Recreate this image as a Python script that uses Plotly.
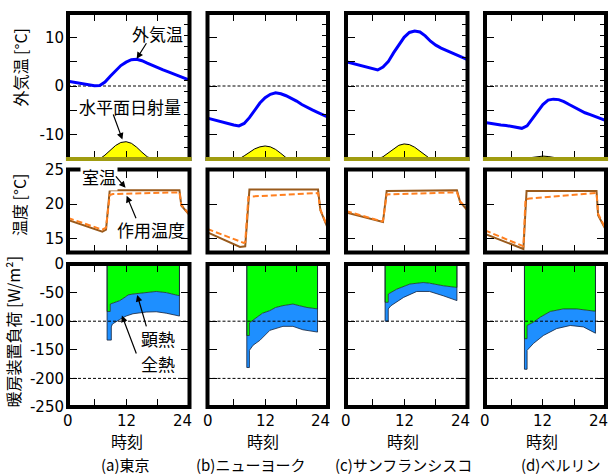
import plotly.graph_objects as go

W, H = 610, 475

# ---------------- data ----------------
hours = list(range(1, 25))

# outdoor air temperature [°C] (hourly, 1..24 h)
temp_out_tokyo = [1.0, 0.8, 0.6, 0.4, 0.2, 0.05, 0.1, 0.8, 2.0, 3.1, 4.2, 4.9,
                  5.4, 5.5, 5.2, 4.7, 4.2, 3.8, 3.3, 2.9, 2.5, 2.0, 1.6, 1.2]
temp_out_newyork = [-6.6, -6.9, -7.2, -7.5, -7.8, -8.0, -8.2, -7.7, -6.5, -5.0, -3.5, -2.4,
                    -1.7, -1.4, -1.6, -2.0, -2.5, -3.1, -3.8, -4.4, -4.9, -5.4, -5.9, -6.4]
temp_out_sanfran = [5.0, 4.7, 4.4, 4.1, 3.8, 3.5, 3.3, 3.9, 5.0, 6.8, 8.5, 10.0,
                    11.0, 11.3, 11.1, 10.3, 9.2, 8.4, 7.8, 7.3, 6.8, 6.3, 5.8, 5.4]
temp_out_berlin = [-7.5, -7.7, -7.8, -8.0, -8.1, -8.3, -8.5, -8.7, -8.2, -6.8, -5.2, -3.8,
                   -2.9, -2.7, -2.8, -3.2, -3.8, -4.4, -5.0, -5.5, -5.9, -6.3, -6.7, -7.1]

# horizontal solar radiation (relative units on the unlabeled right axis)
solar_tokyo = [0, 0, 0, 0, 0, 0, 0, 0.35, 0.8, 1.2, 1.47, 1.54,
               1.4, 1.05, 0.6, 0.2, 0, 0, 0, 0, 0, 0, 0, 0]
solar_newyork = [0, 0, 0, 0, 0, 0, 0, 0.28, 0.6, 0.9, 1.08, 1.16,
                 1.08, 0.85, 0.5, 0.12, 0, 0, 0, 0, 0, 0, 0, 0]
solar_sanfran = [0, 0, 0, 0, 0, 0, 0, 0.2, 0.55, 0.95, 1.22, 1.34,
                 1.28, 1.05, 0.7, 0.3, 0, 0, 0, 0, 0, 0, 0, 0]
solar_berlin = [0, 0, 0, 0, 0, 0, 0, 0, 0.05, 0.14, 0.22, 0.26,
                0.22, 0.14, 0.05, 0, 0, 0, 0, 0, 0, 0, 0, 0]

# room air temperature (solid) and operative temperature (dashed) [°C]
room_t_tokyo = [1, 7.5, 8.2, 8.9, 22.1, 22.45, 24]
room_tokyo = [17.7, 16.0, 16.3, 22.0, 22.0, 19.8, 18.4]
op_t_tokyo = [1, 7.5, 8.2, 8.9, 9.5, 22.1, 22.45, 24]
op_tokyo = [18.0, 16.3, 16.6, 21.3, 21.45, 21.7, 19.9, 18.5]

room_t_newyork = [1, 7.2, 8.2, 9.0, 22.1, 22.55, 24]
room_newyork = [15.9, 13.8, 13.9, 22.1, 22.1, 19.1, 16.4]
op_t_newyork = [1, 7.9, 8.2, 8.8, 9.5, 22.1, 22.55, 24]
op_newyork = [16.4, 14.4, 14.5, 21.0, 21.1, 21.6, 19.2, 16.5]

room_t_sanfran = [1, 7.8, 8.0, 8.7, 22.0, 22.6, 24]
room_sanfran = [18.8, 17.4, 17.4, 21.9, 22.0, 20.3, 19.1]
op_t_sanfran = [1, 7.8, 8.0, 8.7, 22.0, 22.6, 24]
op_sanfran = [19.0, 17.5, 17.6, 21.4, 21.7, 20.4, 19.2]

room_t_berlin = [1, 8.3, 8.9, 22.2, 22.5, 24]
room_berlin = [15.7, 13.5, 21.9, 21.9, 18.4, 16.2]
op_t_berlin = [1, 8.3, 8.7, 9.5, 22.2, 22.5, 24]
op_berlin = [16.2, 13.9, 20.7, 20.8, 21.6, 18.6, 16.3]

# heating load [W/m²]: sensible and total
sens_t_tokyo = [8.4, 9.0, 9.0, 9.9, 10.8, 11.8, 12.4, 13.3, 15.8, 17.7, 19.6, 22.1]
sens_tokyo = [-83, -83, -70, -67, -64, -58, -54, -52.5, -50, -48, -50, -55.5]
total_t_tokyo = [8.4, 9.2, 9.2, 9.4, 9.9, 10.8, 12.0, 13.3, 15.8, 17.7, 19.6, 22.1]
total_tokyo = [-133, -133, -110, -105, -101.7, -97, -91, -87, -84, -83.5, -86, -91]

sens_t_newyork = [8.5, 9.0, 9.0, 9.7, 10.4, 11.5, 12.9, 14.0, 15.4, 17.3, 18.6, 20.0, 22.0]
sens_newyork = [-125, -125, -103, -98, -93, -86, -81.5, -76, -72.8, -70, -73, -76, -78.5]
total_t_newyork = [8.5, 9.0, 9.0, 9.7, 11.0, 12.9, 15.4, 17.3, 19.2, 22.0]
total_newyork = [-181, -181, -151, -142, -133.5, -116, -109, -109, -115, -119]

sens_t_sanfran = [8.4, 9.0, 9.0, 10.6, 13.1, 15.6, 16.8, 19.4, 22.0]
sens_sanfran = [-67, -67, -52.5, -44, -35, -32.4, -33.5, -38, -41]
total_t_sanfran = [8.4, 9.0, 9.0, 9.5, 11.9, 14.4, 16.8, 19.4, 22.0]
total_sanfran = [-100, -100, -78.5, -73, -58.4, -48, -48, -55.5, -64]

sens_t_berlin = [8.5, 9.0, 9.0, 10.2, 11.5, 13.4, 15.9, 18.4, 22.0]
sens_berlin = [-130.5, -130.5, -107.5, -101.7, -93, -83, -78.5, -78.5, -82.6]
total_t_berlin = [8.5, 9.0, 9.0, 10.2, 12.1, 14.6, 17.2, 19.7, 22.0]
total_berlin = [-184, -184, -151, -139, -125, -113, -107.5, -110, -121]

city_labels = ["(a)東京", "(b)ニューヨーク", "(c)サンフランシスコ", "(d)ベルリン"]
x_ticklabels = ["0", "12", "24"]
row1_ticks = [-10, -5, 0, 5, 10]
row2_ticks = [15, 20, 25]
row3_ticks = [-250, -200, -150, -100, -50, 0]

cities = [
    dict(tout=temp_out_tokyo, sol=solar_tokyo, rt=room_t_tokyo, r=room_tokyo, ot=op_t_tokyo, o=op_tokyo,
         st=sens_t_tokyo, s=sens_tokyo, tt=total_t_tokyo, t=total_tokyo),
    dict(tout=temp_out_newyork, sol=solar_newyork, rt=room_t_newyork, r=room_newyork, ot=op_t_newyork, o=op_newyork,
         st=sens_t_newyork, s=sens_newyork, tt=total_t_newyork, t=total_newyork),
    dict(tout=temp_out_sanfran, sol=solar_sanfran, rt=room_t_sanfran, r=room_sanfran, ot=op_t_sanfran, o=op_sanfran,
         st=sens_t_sanfran, s=sens_sanfran, tt=total_t_sanfran, t=total_sanfran),
    dict(tout=temp_out_berlin, sol=solar_berlin, rt=room_t_berlin, r=room_berlin, ot=op_t_berlin, o=op_berlin,
         st=sens_t_berlin, s=sens_berlin, tt=total_t_berlin, t=total_berlin),
]

# ---------------- layout helpers ----------------
cols_x = [(68, 189.5), (207.5, 328), (346, 467.5), (485, 606)]
rows_y = [(13, 159), (169.5, 252.5), (264, 407)]


def px(x):
    return x / W


def py(y):
    return 1 - y / H


def xn(k):
    return "x" if k == 1 else f"x{k}"


def yn(k):
    return "y" if k == 1 else f"y{k}"


NUM_FONT = dict(family="DejaVu Sans", size=15, color="black")
JP = "Noto Sans CJK JP"

fig = go.Figure()
layout = dict(width=W, height=H, margin=dict(l=0, r=0, t=0, b=0, pad=0), autosize=False,
              paper_bgcolor="white", plot_bgcolor="rgba(0,0,0,0)", showlegend=False,
              font=dict(family="DejaVu Sans, Noto Sans CJK JP", size=15, color="black"))
shapes = []
annotations = []

yranges = [[-15, 15], [13, 25], [-250, 0]]
yticks = [row1_ticks, row2_ticks, row3_ticks]

for r in range(3):
    for c in range(4):
        k = r * 4 + c + 1
        layout["xaxis" if k == 1 else f"xaxis{k}"] = dict(
            domain=[px(cols_x[c][0]), px(cols_x[c][1])], range=[1, 24], anchor=yn(k),
            tickvals=[6, 12, 18], ticks="inside", ticklen=8, tickwidth=1, tickcolor="black",
            mirror="ticks", showticklabels=False, showgrid=False, zeroline=False, showline=False,
            automargin=False, fixedrange=True)
        tv = yticks[r]
        layout["yaxis" if k == 1 else f"yaxis{k}"] = dict(
            domain=[py(rows_y[r][1]), py(rows_y[r][0])], range=yranges[r], anchor=xn(k),
            tickvals=tv, ticktext=[("" if (r == 0 and v in (-5, 5)) else str(v)) for v in tv],
            ticks="inside", ticklen=9, tickwidth=1, tickcolor="black",
            mirror=(False if r == 0 else "ticks"), showticklabels=(c == 0), tickfont=NUM_FONT,
            ticklabelstandoff=3, automargin=False,
            showgrid=False, zeroline=False, showline=False, fixedrange=True)
        # borders
        shapes.append(dict(type="rect", xref=f"{xn(k)} domain", yref=f"{yn(k)} domain",
                           x0=0, x1=1, y0=0, y1=1, line=dict(color="black", width=4), layer="above"))

# secondary (solar) axes, row 1
for c in range(4):
    k2 = 13 + c
    layout[f"yaxis{k2}"] = dict(overlaying=yn(c + 1), anchor=xn(c + 1), side="right", range=[0, 13],
                                tickvals=list(range(1, 13)), ticks="inside", ticklen=6, tickwidth=1,
                                tickcolor="black", showticklabels=False, showgrid=False,
                                zeroline=False, showline=False, automargin=False, fixedrange=True)

for c, d in enumerate(cities):
    k1, k2r, k3 = c + 1, c + 5, c + 9
    # row 1: solar + outdoor temperature
    fig.add_trace(go.Scatter(x=hours, y=d["sol"], xaxis=xn(k1), yaxis=f"y{13 + c}", mode="lines",
                             line=dict(color="black", width=1), fill="tozeroy", fillcolor="#ffff00"))
    fig.add_trace(go.Scatter(x=hours, y=d["tout"], xaxis=xn(k1), yaxis=yn(k1), mode="lines",
                             line=dict(color="#0000ff", width=3)))
    # row 2
    fig.add_trace(go.Scatter(x=d["rt"], y=d["r"], xaxis=xn(k2r), yaxis=yn(k2r), mode="lines",
                             line=dict(color="#995a1c", width=2)))
    fig.add_trace(go.Scatter(x=d["ot"], y=d["o"], xaxis=xn(k2r), yaxis=yn(k2r), mode="lines",
                             line=dict(color="#ff8020", width=2, dash="6px,3px")))
    # row 3
    sx = [d["st"][0]] + d["st"] + [d["st"][-1]]
    sy = [0] + d["s"] + [0]
    tx = [d["tt"][0]] + d["tt"] + [d["tt"][-1]]
    ty = [0] + d["t"] + [0]
    fig.add_trace(go.Scatter(x=sx, y=sy, xaxis=xn(k3), yaxis=yn(k3), mode="lines",
                             line=dict(color="#1a3a1a", width=0.8), fill="tozeroy", fillcolor="#00ff00"))
    fig.add_trace(go.Scatter(x=tx, y=ty, xaxis=xn(k3), yaxis=yn(k3), mode="lines",
                             line=dict(color="#10203a", width=0.8), fill="tonexty", fillcolor="#1e8fff"))

    # dashed reference lines
    shapes.append(dict(type="line", xref=f"{xn(k1)} domain", yref=yn(k1), x0=0, x1=1, y0=0, y1=0,
                       line=dict(color="black", width=1, dash="3px,2px"), layer="below"))
    for v in (-100, -200):
        shapes.append(dict(type="line", xref=f"{xn(k3)} domain", yref=yn(k3), x0=0, x1=1, y0=v, y1=v,
                           line=dict(color="black", width=1, dash="3px,2px"), layer="above"))
    # olive bottom edge of row 1 (solar baseline)
    shapes.append(dict(type="line", xref=f"{xn(k1)} domain", yref=f"{yn(k1)} domain",
                       x0=-0.017, x1=1.017, y0=0, y1=0, line=dict(color="#a09c10", width=4), layer="above"))

    # x tick labels
    for lab, xv, anc, sh in zip(x_ticklabels, [1, 12, 24], ["center", "center", "right"], [0, 0, 3]):
        annotations.append(dict(text=lab, x=xv, xref=xn(k3), y=py(421), yref="paper", xanchor=anc,
                                yanchor="middle", xshift=sh, borderpad=0, showarrow=False, font=NUM_FONT))

# x titles and city labels
for xc in [126.7, 263, 403, 541.7]:
    annotations.append(dict(text="時刻", x=px(xc), y=py(441), xref="paper", yref="paper",
                            xanchor="center", yanchor="middle", borderpad=0,
                            showarrow=False, font=dict(family=JP, size=16, color="black")))
for lab, xc in zip(city_labels, [125, 250, 403.5, 560]):
    annotations.append(dict(text=lab, x=px(xc), y=py(464), xref="paper", yref="paper",
                            xanchor="center", yanchor="middle", borderpad=0,
                            showarrow=False, font=dict(family=JP, size=15, color="black")))

# y titles
for lab, xc, yc in [("外気温 [°C]", 19, 67.5), ("温度 [°C]", 19, 205), ("暖房装置負荷 [W/m²]", 12.5, 332)]:
    annotations.append(dict(text=lab, x=px(xc), y=py(yc), xref="paper", yref="paper", textangle=-90,
                            xanchor="center", yanchor="middle",
                            showarrow=False, font=dict(family=JP, size=16, color="black")))

# in-plot labels
for lab, xc, yc, bg in [("外気温", 157, 33, None), ("水平面日射量", 130, 106, None),
                        ("室温", 99, 176, "white"), ("作用温度", 151, 230, None),
                        ("顕熱", 158, 338, None), ("全熱", 158, 363.5, None)]:
    a = dict(text=lab, x=px(xc), y=py(yc), xref="paper", yref="paper", showarrow=False,
             xanchor="center", yanchor="middle",
             font=dict(family=JP, size=17, color="black"))
    if bg:
        a["bgcolor"] = bg
    annotations.append(a)

# arrows (head at data point, tail offset in px)
for xr, yr, hx, hy, ax, ay in [("x", "y", 14.0, 5.6, 10.7, -17), ("x", "y", 11.3, -11.0, -9.7, -26.6),
                               ("x5", "y5", 11.9, 22.35, -11, -13), ("x5", "y5", 12.1, 21.2, 10, 24),
                               ("x9", "y9", 14.1, -54, 9.6, 33), ("x9", "y9", 11.2, -90, 15, 39.5)]:
    annotations.append(dict(text="", x=hx, y=hy, xref=xr, yref=yr, ax=ax, ay=ay, axref="pixel",
                            ayref="pixel", showarrow=True, arrowhead=2, arrowsize=1.1, arrowwidth=1.2,
                            arrowcolor="black"))

layout["shapes"] = shapes
layout["annotations"] = annotations
fig.update_layout(**layout)
fig.write_html("out.html")
